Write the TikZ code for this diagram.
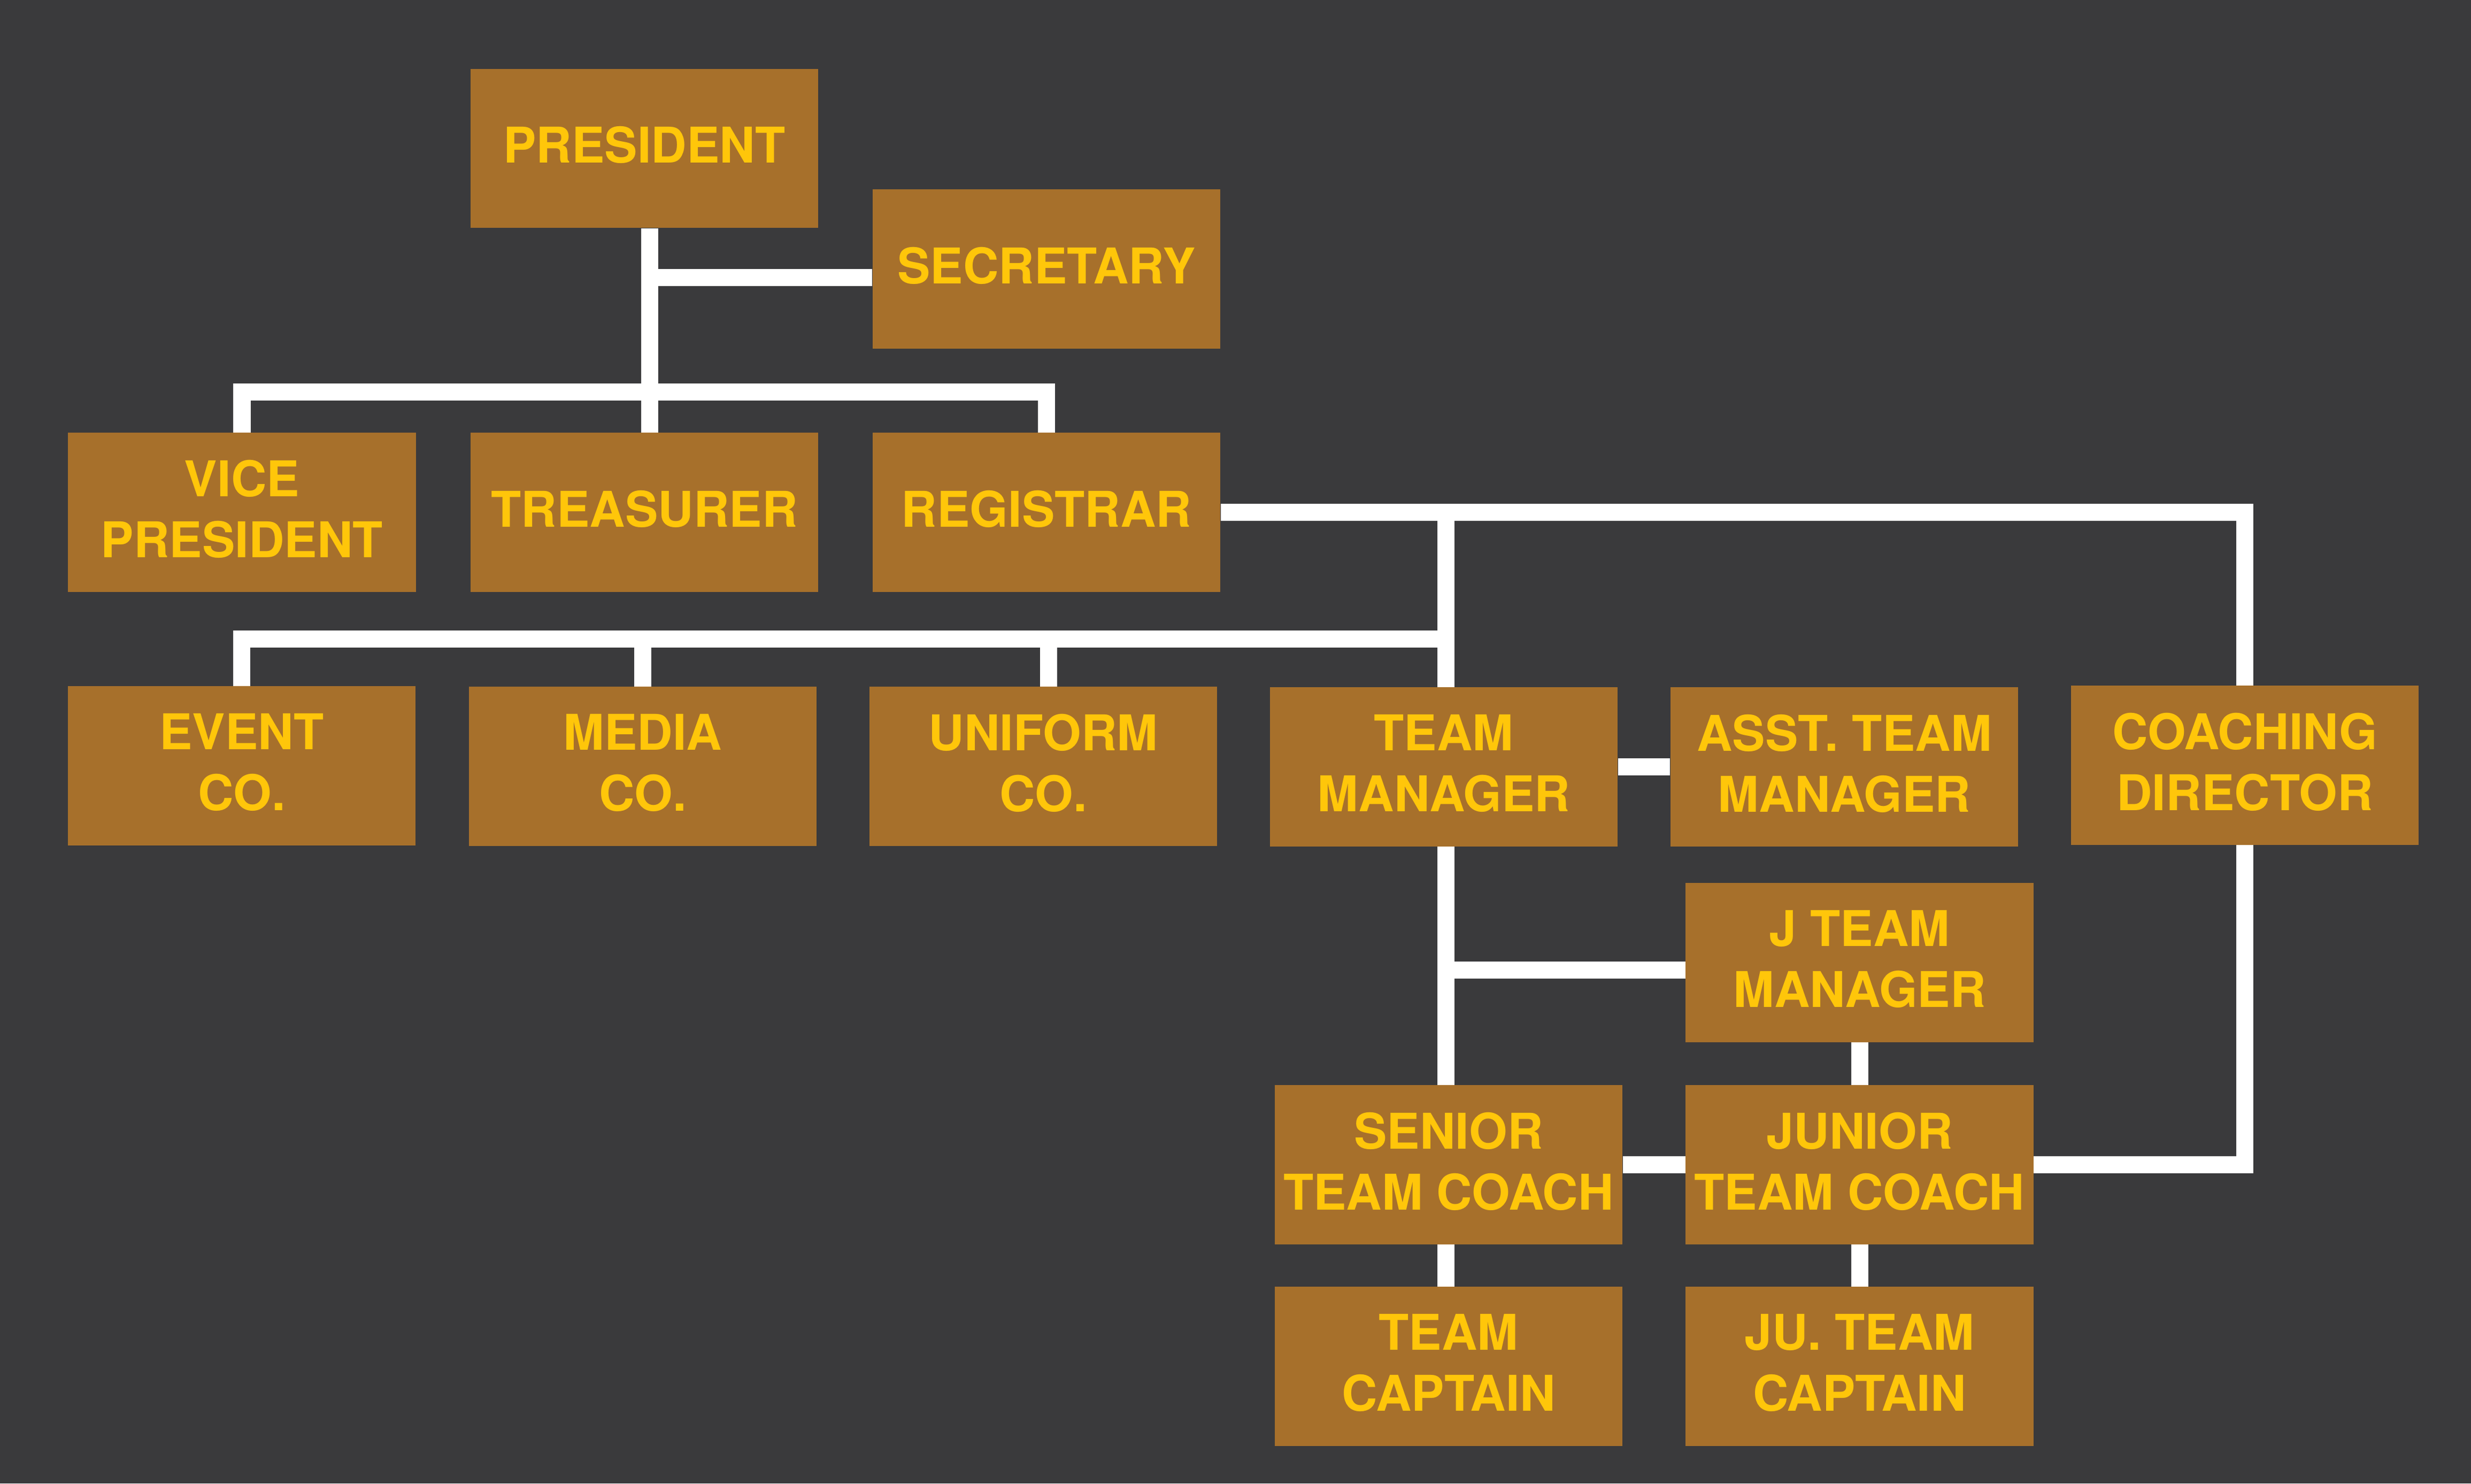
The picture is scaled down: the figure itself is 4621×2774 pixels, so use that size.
\documentclass[tikz,border=0pt]{standalone}
\usepackage{fontspec}
\setmainfont{TeX Gyre Heros}
\definecolor{bg}{HTML}{3A3A3C}
\definecolor{boxc}{HTML}{A7702B}
\definecolor{txt}{HTML}{FFC60A}
\tikzset{
  role/.style={fill=boxc, text=txt, inner sep=0pt, minimum width=6.5cm, minimum height=2.97cm,
    align=center, text depth=0.14cm, font=\fontsize{26.2pt}{32.4pt}\selectfont\bfseries},
  conn/.style={draw=white, line width=0.32cm, line join=miter, line cap=butt}
}
\begin{document}
\begin{tikzpicture}[x=0.01cm, y=-0.01cm]
\fill[bg] (0,0) rectangle (4621,2774);
\useasboundingbox (0,0) rectangle (4621,2774);
% nodes
\node[role] (pres) at (1205,277.5) {PRESIDENT};
\node[role] (sec) at (1957,503) {SECRETARY};
\node[role] (vp) at (452.5,958) {VICE\\PRESIDENT};
\node[role] (treas) at (1205,958) {TREASURER};
\node[role] (reg) at (1957,958) {REGISTRAR};
\node[role] (event) at (452,1432) {EVENT\\CO.};
\node[role] (media) at (1202,1433) {MEDIA\\CO.};
\node[role] (uniform) at (1951,1433) {UNIFORM\\CO.};
\node[role] (tm) at (2700,1434) {TEAM\\MANAGER};
\node[role] (asst) at (3449,1434) {ASST. TEAM\\MANAGER};
\node[role] (coach) at (4198,1431) {COACHING\\DIRECTOR};
\node[role] (jtm) at (3477.5,1800) {J TEAM\\MANAGER};
\node[role] (senior) at (2709,2178) {SENIOR\\TEAM COACH};
\node[role] (junior) at (3477.5,2178) {JUNIOR\\TEAM COACH};
\node[role] (teamcap) at (2709,2555) {TEAM\\CAPTAIN};
\node[role] (jucap) at (3477.5,2555) {JU. TEAM\\CAPTAIN};
% helper coordinates
\coordinate (ptop) at ([xshift=0.1cm]pres.south);
\coordinate (tbot) at ([xshift=0.1cm]treas.north);
\coordinate (sw) at ([yshift=-0.16cm]sec.west);
\coordinate (b1) at (1215,733);
\coordinate (tmtop) at ([xshift=0.04cm]tm.north);
\coordinate (bar2) at (2704,1195);
\coordinate (unitop) at ([xshift=0.1cm]uniform.north);
\coordinate (tmbot) at ([xshift=0.04cm]tm.south);
\coordinate (jw) at ([yshift=-0.14cm]jtm.west);
% connectors
\draw[conn] (ptop) -- (tbot);
\draw[conn] (sw) -- (sw -| ptop);
\draw[conn] (vp.north) |- (b1) -| (reg.north);
\draw[conn] (reg.east) -| (coach.north);
\draw[conn] (tmtop) -- (tmtop |- reg.east);
\draw[conn] (event.north) |- (bar2);
\draw[conn] (media.north) -- (media.north |- bar2);
\draw[conn] (unitop) -- (unitop |- bar2);
\draw[conn] (tm.east) -- (asst.west);
\draw[conn] (tmbot) -- (tmbot |- senior.north);
\draw[conn] (jw) -- (jw -| tmbot);
\draw[conn] (jtm.south) -- (junior.north);
\draw[conn] (senior.east) -- (junior.west);
\draw[conn] (junior.east) -| (coach.south);
\draw[conn] (tmbot |- senior.south) -- (tmbot |- teamcap.north);
\draw[conn] (junior.south) -- (jucap.north);
\end{tikzpicture}
\end{document}
